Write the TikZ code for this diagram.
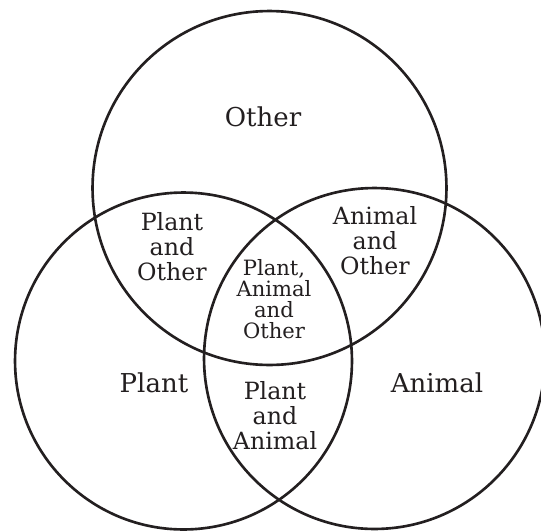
\documentclass[tikz,border=0pt]{standalone}
\usepackage{tikz}
\usepackage{fontspec}
\setmainfont{DejaVu Serif}
\usetikzlibrary{positioning}
\definecolor{ink}{HTML}{231F20}

\begin{document}
\begin{tikzpicture}[
  x=0.02cm, y=-0.02cm,
  set/.style={draw=ink, circle, line width=1.5pt, inner sep=0pt},
  big/.style={text=ink, font=\fontsize{14.8}{16}\selectfont},
  pair/.style={text=ink, align=center, font=\fontsize{13.5}{14.2}\selectfont},
  core/.style={text=ink, align=center, font=\fontsize{12}{12}\selectfont}
]
  \useasboundingbox (0,0) rectangle (541,531);

  % the three sets
  \node[set, minimum size=7.08cm] (Other) at (269.5,188) {};
  \node[set, minimum size=6.74cm] (Plant) at (183.5,361) {};
  \node[set, minimum size=6.82cm] (Animal) at (374.5,358.5) {};

  % region labels
  \node[big] (lOther) at (263,117) {Other};
  \node[big] (lPlant) at (154,383) {Plant};
  \node[big] (lAnimal) at (437,383) {Animal};
  \node[pair] (lPO) at (172,247) {Plant\\and\\Other};
  \node[pair] (lAO) at (375,241) {Animal\\and\\Other};
  \node[pair] (lPA) at (275,416) {Plant\\and\\Animal};
  \node[core] (lPAO) at (274,299) {Plant,\\Animal\\and\\Other};
\end{tikzpicture}
\end{document}
